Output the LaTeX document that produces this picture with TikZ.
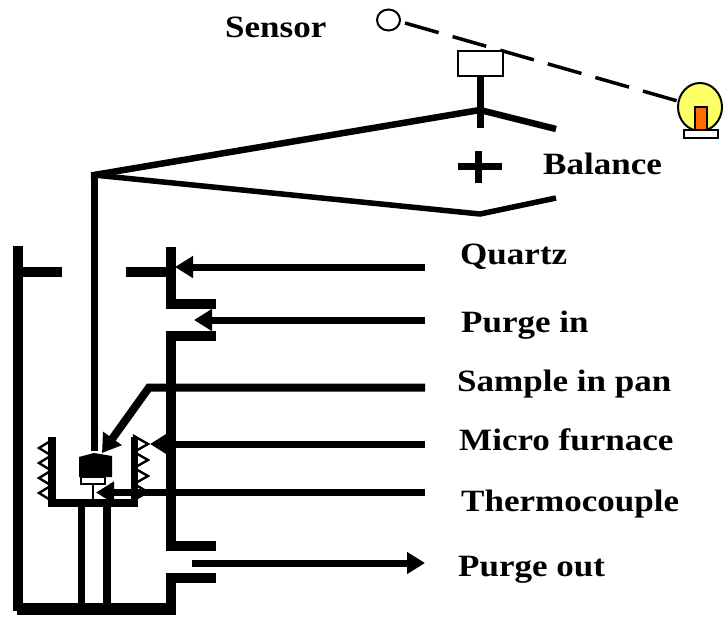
\documentclass[tikz,border=0pt]{standalone}
\usepackage{fontspec}
\setmainfont{Liberation Serif}[FakeStretch=1.13]
\usetikzlibrary{arrows.meta,shapes.geometric}
\definecolor{bulb}{RGB}{255,255,102}
\definecolor{core}{RGB}{255,110,0}
\tikzset{
  px/.style={x=1pt,y=-1pt},
  wall/.style={line width=10pt,line cap=butt,line join=miter},
  beam/.style={line width=6.5pt,line join=miter},
  feed/.style={line width=7pt,-{Triangle[length=18pt,width=21pt]}},
  lab/.style={font=\bfseries\fontsize{31}{33}\selectfont,anchor=west,inner sep=0pt},
  tooth/.style={draw=black,line width=2.4pt,fill=white,line join=miter},
  fine/.style={draw=black,line width=2pt,fill=white},
  outline/.style={draw=black,line width=2pt,inner sep=0pt}
}
\begin{document}
\begin{tikzpicture}[px]
\useasboundingbox (0,0) rectangle (725,616);
% labels
\node[lab] (sensor) at (225,27) {Sensor};
\node[lab] (balance) at (543,164) {Balance};
\node[lab] (quartz) at (460,257) {Quartz};
\node[lab] (purgein) at (461,325) {Purge in};
\node[lab] (sample) at (457,384) {Sample in pan};
\node[lab] (micro) at (459,440) {Micro furnace};
\node[lab] (thermo) at (461,504) {Thermocouple};
\node[lab] (purgeout) at (458,570) {Purge out};
% quartz tube
\draw[wall] (18,246) -- (18,611);
\draw[line width=12pt] (17,609) -- (176,609);
\draw[wall] (171,611) -- (171,578) -- (216,578);
\draw[wall] (18,271.5) -- (62,271.5);
\draw[wall] (126,271.5) -- (171,271.5);
\draw[wall] (171,247) -- (171,304) -- (216,304);
\draw[wall] (216,336) -- (171,336) -- (171,545.5) -- (216,545.5);
% balance
\coordinate (pivot) at (480,110);
\coordinate (hang) at (94,175);
\coordinate (low) at (480,214);
\draw[beam] (94,178) -- (hang) -- (pivot) -- (556,129);
\draw[line width=5.5pt,line join=miter] (hang) -- (low) -- (556,198);
\draw[line width=7pt] (480,72) -- (480,128);
\draw[line width=7pt] (458,166) -- (502,166);
\draw[line width=7pt] (478,151) -- (478,183);
% sensor and lamp
\node[outline,fill=white,ellipse,minimum width=23pt,minimum height=21pt] (eye) at (388.5,20) {};
\node[outline,fill=bulb,ellipse,minimum width=44pt,minimum height=48pt] (lamp) at (700,107) {};
\draw[line width=3.5pt,dash pattern=on 35pt off 14.5pt] (405,23) -- (lamp.165);
\node[outline,fill=white,minimum width=45pt,minimum height=25pt] (flag) at (480,63) {};
\node[outline,fill=core,minimum width=12pt,minimum height=23pt] (filament) at (700.5,118.5) {};
\node[outline,fill=white,minimum width=34pt,minimum height=8pt] (base) at (700.5,134) {};
% hang wire and pan
\draw[line width=7.5pt] (94.5,172) -- (94.5,451);
\fill[black] (79,457) -- (94,453) -- (112,456) -- (112,477) -- (79,477) -- cycle;
\node[fine,minimum width=24pt,minimum height=7pt,inner sep=0pt] (pan) at (92.5,480.5) {};
\draw[line width=2pt] (93,484) -- (93,503);
% furnace
\foreach \y in {448,463,478,493}{
  \draw[tooth] (52,\y-8) -- (39,\y) -- (52,\y+8) -- cycle;
}
\foreach \y in {444,460,476,492}{
  \draw[tooth] (134,\y-8) -- (148,\y) -- (134,\y+8) -- cycle;
}
\draw[line width=7.5pt,line join=miter] (52,437) -- (52,503) -- (134.5,503) -- (134.5,437);
\draw[line width=7pt] (81,503) -- (81,607);
\draw[line width=8pt] (107,503) -- (107,607);
% arrows
\coordinate (qa) at (425,267);
\coordinate (qb) at (175,267);
\coordinate (pa) at (425,320);
\coordinate (pb) at (194,320);
\coordinate (sa) at (425,387.5);
\coordinate (sm) at (149,387.5);
\coordinate (sb) at (102,453);
\coordinate (ma) at (425,444);
\coordinate (mb) at (150,444);
\coordinate (ta) at (425,492.5);
\coordinate (tb) at (96,492.5);
\coordinate (oa) at (192,563);
\coordinate (ob) at (425,563);
\draw[feed] (qa) -- (qb);
\draw[feed] (pa) -- (pb);
\draw[line width=8pt,line join=miter,-{Triangle[length=18pt,width=22pt]}] (sa) -- (sm) -- (sb);
\draw[feed] (ma) -- (mb);
\draw[feed] (ta) -- (tb);
\fill[white] (115,496.5) rectangle (130,498.5);
\draw[feed] (oa) -- (ob);
\end{tikzpicture}
\end{document}
